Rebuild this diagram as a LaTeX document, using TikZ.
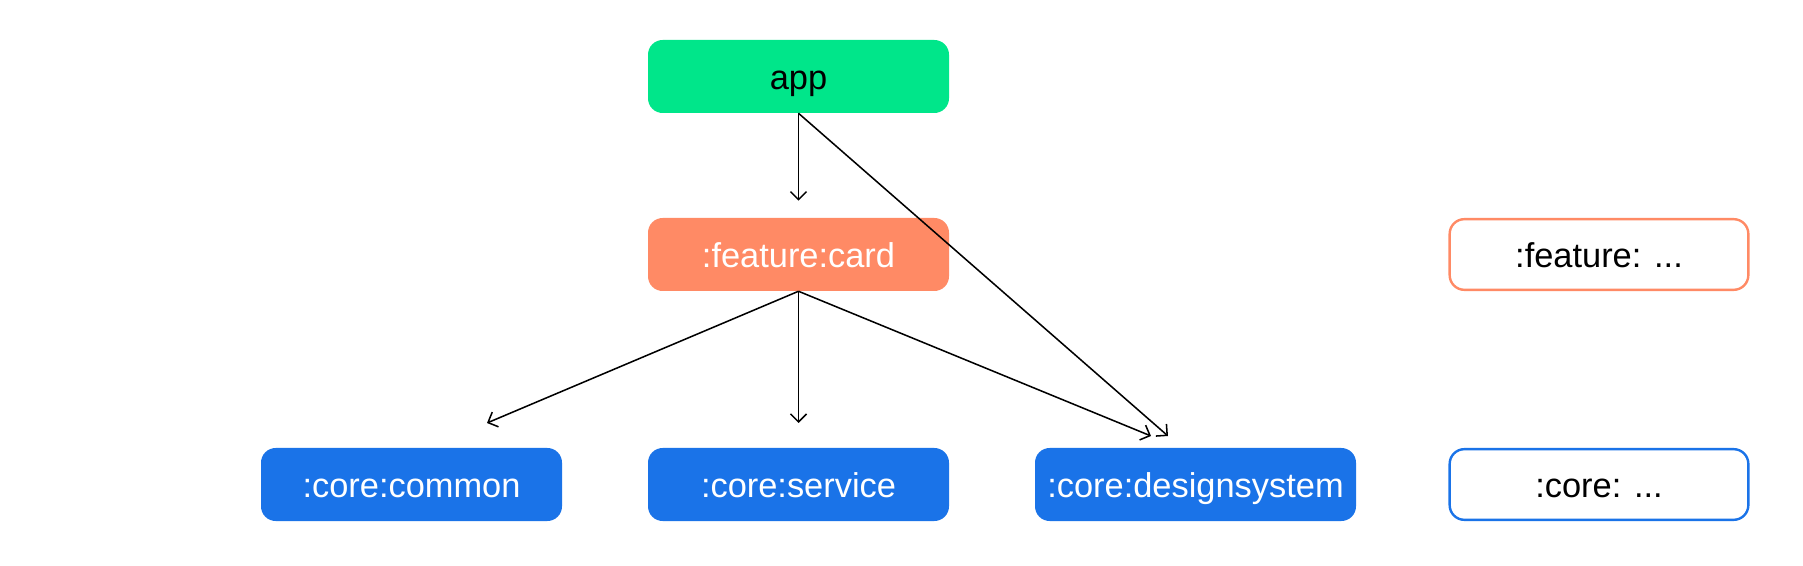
\documentclass[tikz,border=0pt]{standalone}
\usepackage{fontspec}
\setsansfont{Liberation Sans}
\usepackage{xcolor}
\usetikzlibrary{arrows.meta,calc,positioning}
\definecolor{appGreen}{HTML}{00E68A}
\definecolor{featureOrange}{HTML}{FF8A65}
\definecolor{coreBlue}{HTML}{1A73E8}
\tikzset{
  font=\sffamily\fontsize{25.8}{30}\selectfont,
  arrow/.style={-{Straight Barb[length=6pt,width=12pt]}, draw=black, line width=1.15pt},
  module/.style={rectangle, rounded corners=11pt, draw=none, minimum width=225.75pt, minimum height=54.75pt, inner sep=0pt, text height=22pt, text depth=3pt, align=center},
  appModule/.style={module, fill=appGreen, text=black},
  featureModule/.style={module, fill=featureOrange, text=white},
  coreModule/.style={module, fill=coreBlue, text=white},
  legendModule/.style={module, fill=white, text=black, line width=1.8pt, minimum width=224pt, minimum height=53pt}
}

\begin{document}
\begin{tikzpicture}[x=0.75pt,y=-0.75pt]

\useasboundingbox (0,0) rectangle (1803,566);

% --------------------------------------------------------------------------
% Module graph
% --------------------------------------------------------------------------
\node[appModule] (app) at (798.5,76.5) {app};
\node[featureModule] (card) at (798.5,254.5) {:feature:card};

\node[coreModule] (common) at (411.5,484.5) {:core:common};
\node[coreModule] (service) at (798.5,484.5) {:core:service};
\node[coreModule, minimum width=240.75pt] (design) at (1195.5,484.5) {:core:designsystem};

% legend on the right
\node[legendModule, draw=featureOrange] (featureMore) at (1599,254.5) {:feature: ...};
\node[legendModule, draw=coreBlue] (coreMore) at (1599,484.5) {:core: ...};

% arrow tips stop short of the boxes
\coordinate (commonTip) at (487,423);
\coordinate (serviceTip) at (798.5,423);
\coordinate (designTipCard) at (1151,436);
\coordinate (designTipApp) at (1168,436);

\draw[arrow, shorten >=12.75pt] (app.south) -- (card.north);
\draw[arrow] (app.south) -- (designTipApp);
\draw[arrow] (card.south) -- (commonTip);
\draw[arrow] (card.south) -- (serviceTip);
\draw[arrow] (card.south) -- (designTipCard);

\end{tikzpicture}
\end{document}
